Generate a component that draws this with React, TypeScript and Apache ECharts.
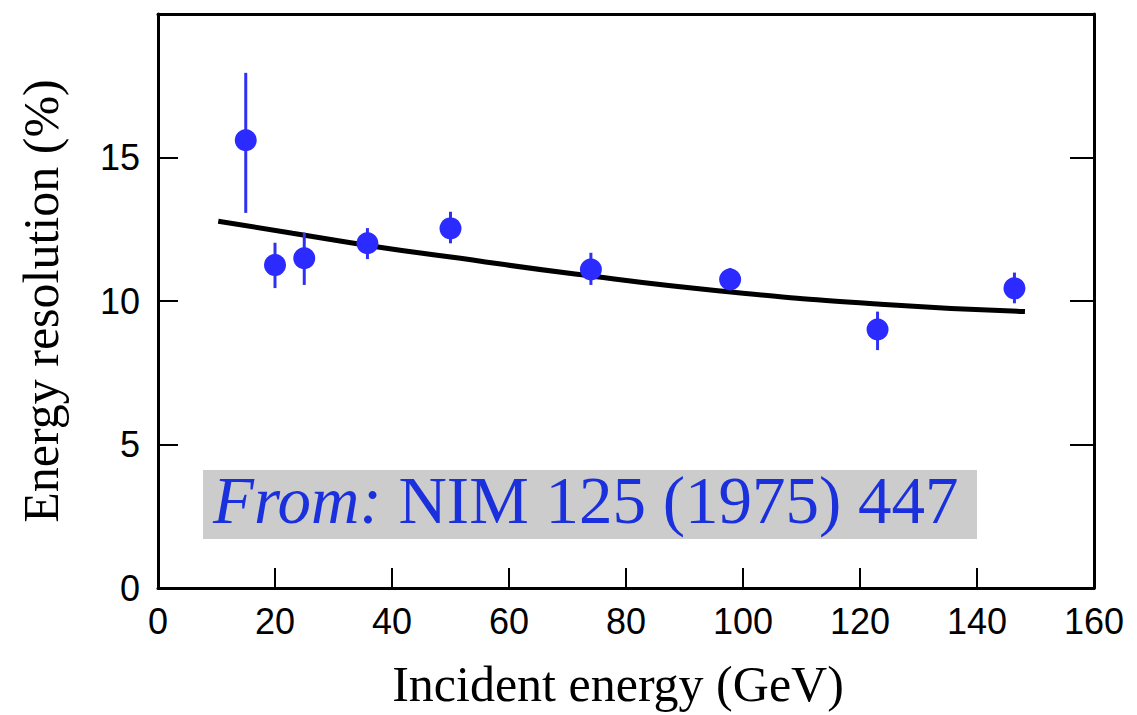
import React, { useEffect, useRef } from "react";
import * as echarts from "echarts";

const energies = [15, 20, 25, 35.8, 50, 74, 97.8, 123, 146.4];
const resolution = [15.6, 11.25, 11.49, 12.01, 12.53, 11.1, 10.75, 9.01, 10.44];
const errLow = [13.07, 10.45, 10.56, 11.46, 12.01, 10.56, 10.38, 8.29, 9.92];
const errHigh = [17.95, 12.03, 12.38, 12.54, 13.11, 11.68, 11.15, 9.63, 10.99];

const fitEnergy = [10.3, 23, 37.3, 49.7, 71.3, 95.7, 123.5, 148.2];
const fitResolution = [12.78, 12.36, 11.89, 11.54, 10.94, 10.36, 9.89, 9.63];

const xTicks = [0, 20, 40, 60, 80, 100, 120, 140, 160];
const yTickLabels = ["0", "5", "10", "15"];

export default function App() {
  const ref = useRef<HTMLDivElement>(null);
  useEffect(() => {
    if (!ref.current) return;
    const chart = echarts.init(ref.current, undefined, { renderer: "svg" });
    const tickFont = "'Liberation Sans', 'DejaVu Sans', sans-serif";
    const serif = "'Liberation Serif', 'DejaVu Serif', serif";
    const frameLine = { show: true, onZero: false, lineStyle: { color: "#000", width: 3 } };
    chart.setOption({
      animation: false,
      backgroundColor: "#ffffff",
      grid: {
        left: 158,
        right: 1137 - 1094,
        top: 14,
        bottom: 715 - 588,
        containLabel: false,
        outerBoundsMode: "none",
      },
      xAxis: [
        {
          type: "value",
          min: xTicks[0],
          max: xTicks[xTicks.length - 1],
          interval: 20,
          position: "bottom",
          axisLine: frameLine,
          axisTick: { show: true, inside: true, length: 20, lineStyle: { color: "#000", width: 2 } },
          axisLabel: { color: "#000", fontSize: 36, fontFamily: tickFont, margin: 15 },
          splitLine: { show: false },
          name: "Incident energy (GeV)",
          nameLocation: "middle",
          nameGap: 71,
          nameTextStyle: { color: "#000", fontSize: 50, fontFamily: serif, padding: [0, 16, 0, 0] },
        },
        {
          type: "value",
          min: 0,
          max: 160,
          interval: 20,
          position: "top",
          axisLine: frameLine,
          axisTick: { show: false },
          axisLabel: { show: false },
          splitLine: { show: false },
        },
      ],
      yAxis: [
        {
          type: "value",
          min: 0,
          max: 20,
          interval: 5,
          position: "left",
          axisLine: frameLine,
          axisTick: { show: true, inside: true, length: 20, lineStyle: { color: "#000", width: 2 } },
          axisLabel: {
            color: "#000",
            fontSize: 36,
            fontFamily: tickFont,
            margin: 18,
            formatter: (v: number) => {
              const s = String(v);
              return yTickLabels.includes(s) ? s : "";
            },
          },
          splitLine: { show: false },
          name: "Energy resolution (%)",
          nameLocation: "middle",
          nameGap: 92,
          nameTextStyle: { color: "#000", fontSize: 50, fontFamily: serif },
        },
        {
          type: "value",
          min: 0,
          max: 20,
          interval: 5,
          position: "right",
          axisLine: frameLine,
          axisTick: { show: true, inside: true, length: 24, lineStyle: { color: "#000", width: 2 } },
          axisLabel: { show: false },
          splitLine: { show: false },
        },
      ],
      series: [
        {
          type: "line",
          data: fitEnergy.map((x, i) => [x, fitResolution[i]]),
          smooth: true,
          showSymbol: false,
          lineStyle: { color: "#000", width: 5 },
          z: 2,
        },
        {
          type: "custom",
          data: energies.map((x, i) => [x, errLow[i], errHigh[i]]),
          renderItem: (params: any, api: any) => {
            const lo = api.coord([api.value(0), api.value(1)]);
            const hi = api.coord([api.value(0), api.value(2)]);
            return {
              type: "line",
              shape: { x1: lo[0], y1: lo[1], x2: hi[0], y2: hi[1] },
              style: { stroke: "#3030f0", lineWidth: 3 },
            };
          },
          z: 3,
        },
        {
          type: "scatter",
          data: energies.map((x, i) => [x, resolution[i]]),
          symbol: "circle",
          symbolSize: 22,
          itemStyle: { color: "#2b2bff", opacity: 1 },
          z: 4,
        },
      ],
      graphic: [
        {
          type: "rect",
          left: 203,
          top: 470,
          shape: { width: 774, height: 69 },
          style: { fill: "#cccccc" },
          z: 10,
        },
        {
          type: "text",
          left: 213,
          top: 466,
          style: {
            text: "{i|From:} {n|NIM 125 (1975) 447}",
            rich: {
              i: { fontFamily: serif, fontStyle: "italic", fontSize: 67, fill: "#1a30dd" },
              n: { fontFamily: serif, fontSize: 67, fill: "#1a30dd" },
            },
            fontFamily: serif,
            fontSize: 67,
            fill: "#1a30dd",
          },
          z: 11,
        },
      ],
    });
    return () => chart.dispose();
  }, []);
  return <div ref={ref} style={{ width: 1137, height: 715, position: "absolute", left: 0, top: 0 }} />;
}
